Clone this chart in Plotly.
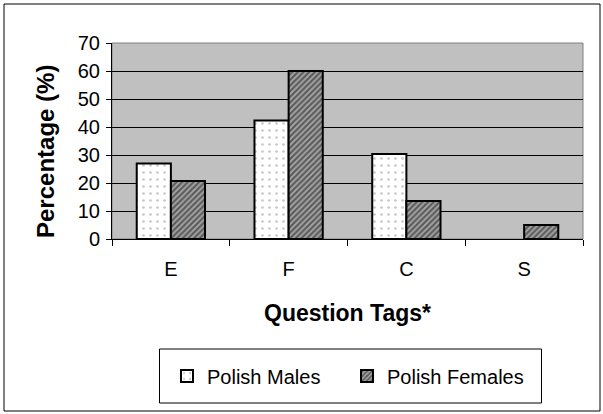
import plotly.graph_objects as go

categories = ["E", "F", "C", "S"]
males = [27, 42.3, 30.4, 0]
females = [20.7, 60, 13.6, 5]
y_ticks = [0, 10, 20, 30, 40, 50, 60, 70]

FONT = "Liberation Sans, Arial, sans-serif"

fig = go.Figure()
fig.add_trace(go.Bar(
    x=categories, y=males, name="Polish Males",
    marker=dict(color="white", line=dict(color="black", width=[2 if v > 0 else 0 for v in males]),
                pattern=dict(shape=".", fgcolor="#909090", bgcolor="white", size=7, solidity=0.12)),
))
fig.add_trace(go.Bar(
    x=categories, y=females, name="Polish Females",
    marker=dict(color="#606060", line=dict(color="black", width=[2 if v > 0 else 0 for v in females]),
                pattern=dict(shape="/", fgcolor="#101010", bgcolor="#a8a8a8", size=4, solidity=0.55)),
))

L, R, T, B = 112, 20, 43, 175
W, H = 603, 414
pw = W - L - R
ph = H - T - B

def px2x(px):
    return (px - L) / pw

def py2y(py):
    return (H - B - py) / ph

fig.update_layout(
    width=W, height=H,
    margin=dict(l=L, r=R, t=T, b=B, pad=0),
    paper_bgcolor="white",
    plot_bgcolor="#C0C0C0",
    barmode="group", bargap=0.42, bargroupgap=0,
    font=dict(family=FONT, size=20, color="black"),
    showlegend=True,
    legend=dict(orientation="h", x=px2x(167), y=py2y(376), xanchor="left", yanchor="middle",
                bgcolor="rgba(0,0,0,0)", borderwidth=0, entrywidth=135,
                font=dict(family=FONT, size=20), traceorder="normal"),
    xaxis=dict(showline=True, linecolor="black", linewidth=1, ticks="outside", tickson="boundaries",
               ticklen=6, tickcolor="black", showgrid=False, ticklabelstandoff=12,
               tickfont=dict(family=FONT, size=20)),
    yaxis=dict(range=[0, 70], tickvals=y_ticks, showline=True, linecolor="black", linewidth=1,
               ticks="outside", ticklen=5, tickcolor="black", showgrid=True, gridcolor="black",
               gridwidth=1, zeroline=False, ticklabelstandoff=2, tickfont=dict(family=FONT, size=20)),
    shapes=[
        dict(type="rect", xref="paper", yref="paper", x0=0, x1=1, y0=0, y1=1,
             line=dict(color="#808080", width=1), layer="below"),
        dict(type="rect", xref="paper", yref="paper", x0=px2x(159.5), x1=px2x(541.5),
             y0=py2y(403), y1=py2y(349), line=dict(color="black", width=1)),
        dict(type="rect", xref="paper", yref="paper", x0=px2x(4), x1=px2x(600),
             y0=py2y(411), y1=py2y(4), line=dict(color="black", width=1)),
    ],
    annotations=[
        dict(text="<b>Percentage (%)</b>", xref="paper", yref="paper", x=px2x(45), y=py2y(152),
             xanchor="center", yanchor="middle",
             textangle=-90, showarrow=False, font=dict(family=FONT, size=24)),
        dict(text="<b>Question Tags*</b>", xref="paper", yref="paper", x=0.5, y=py2y(313),
             xanchor="center", yanchor="middle",
             showarrow=False, font=dict(family=FONT, size=23)),
    ],
)

fig.write_html("out.html", config={"displayModeBar": False},
               post_script="document.body.style.margin='0';document.body.style.overflow='hidden';")
